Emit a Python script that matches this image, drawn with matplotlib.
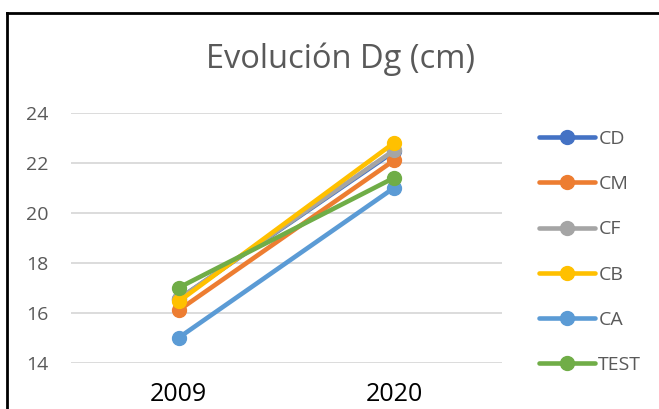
import matplotlib.pyplot as plt
from matplotlib.lines import Line2D

# ========== data ==========
years = ['2009', '2020']
series_names = ['CD', 'CM', 'CF', 'CB', 'CA', 'TEST']
dg_cd = [16.55, 22.45]
dg_cm = [16.1, 22.1]
dg_cf = [16.55, 22.5]
dg_cb = [16.45, 22.8]
dg_ca = [15.0, 21.0]
dg_test = [17.0, 21.4]
y_ticks = [14, 16, 18, 20, 22, 24]

colours = ['#4472C4', '#ED7D31', '#A5A5A5', '#FFC000', '#5B9BD5', '#70AD47']
all_series = [dg_cd, dg_cm, dg_cf, dg_cb, dg_ca, dg_test]

plt.rcParams['font.family'] = ['Open Sans', 'DejaVu Sans']

W, H = 659, 409
fig = plt.figure(figsize=(W / 100, H / 100), dpi=100)
fig.patch.set_facecolor('white')

# plot area in pixel coordinates
left, right, top, bottom = 71, 502, 112.7, 362.7
ax = fig.add_axes([left / W, 1 - bottom / H, (right - left) / W, (bottom - top) / H])

x = list(range(len(years)))
for name, values, colour in zip(series_names, all_series, colours):
    ax.plot(x, values, color=colour, linewidth=3.3, marker='o',
            markersize=10, solid_capstyle='round', label=name)

ax.set_xlim(-0.5, len(years) - 0.5)
ax.set_ylim(y_ticks[0], y_ticks[-1])
ax.set_yticks(y_ticks)
ax.set_xticks(x)
ax.set_xticklabels(years, fontsize=18, color='black')
ax.tick_params(axis='y', length=0, pad=16, labelsize=14, labelcolor='#595959')
ax.tick_params(axis='x', length=0, pad=14)
ax.grid(axis='y', color='#D9D9D9', linewidth=1.3)
ax.set_axisbelow(True)
for spine in ax.spines.values():
    spine.set_visible(False)

fig.text(340 / W, 1 - 59 / H, 'Evolución Dg (cm)', fontsize=23.5,
         color='#595959', ha='center', va='center')

# legend on the right
handles = [Line2D([0], [0], color=c, linewidth=3.3, marker='o', markersize=10,
                  solid_capstyle='round') for c in colours]
fig.legend(handles, series_names, loc='upper left',
           bbox_to_anchor=(539 / W, 1 - 130 / H), frameon=False,
           fontsize=14, labelcolor='#595959', handlelength=2.9,
           handletextpad=0.15, labelspacing=1.4, borderpad=0, borderaxespad=0)

# outer chart frame (only top and left visible)
fig.add_artist(Line2D([7 / W, 7 / W], [0, 1 - 13 / H], color='black',
                      linewidth=2, transform=fig.transFigure))
fig.add_artist(Line2D([7 / W, 1], [1 - 13 / H, 1 - 13 / H], color='black',
                      linewidth=2, transform=fig.transFigure))

fig.savefig('out.png', dpi=100)
